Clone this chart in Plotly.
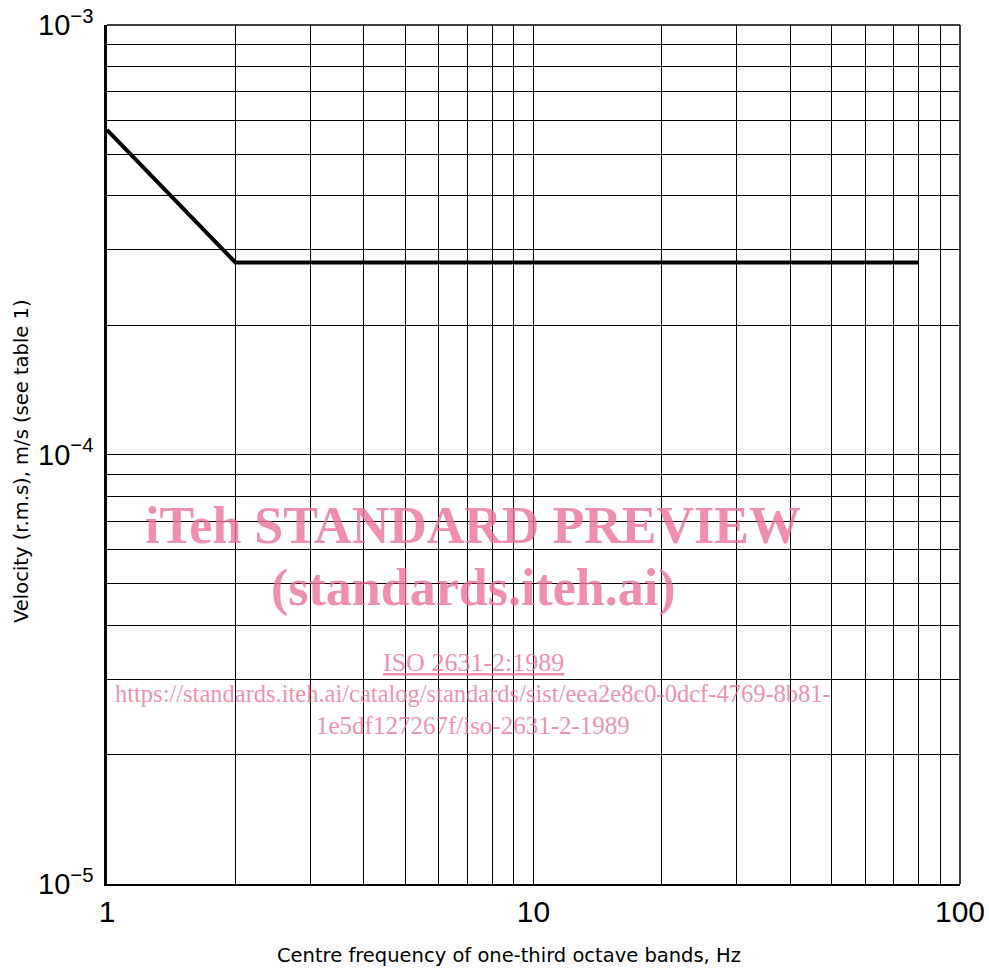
import plotly.graph_objects as go

# Curve data
freq_hz = [1, 2, 80]
velocity_ms = [5.7e-4, 2.8e-4, 2.8e-4]

# Grid / tick positions
x_grid = [1, 2, 3, 4, 5, 6, 7, 8, 9, 10, 20, 30, 40, 50, 60, 70, 80, 90, 100]
x_labels = {1: "1", 10: "10", 100: "100"}
y_grid = [m * 10.0 ** e for e in (-5, -4) for m in range(1, 10)] + [1e-3]
y_labels = {1e-5: "10<sup>−5</sup>", 1e-4: "10<sup>−4</sup>", 1e-3: "10<sup>−3</sup>"}

x_title = "Centre frequency of one-third octave bands, Hz"
y_title = "Velocity (r.m.s), m/s (see table 1)"

x_text = [x_labels.get(v, "") for v in x_grid]
y_text = []
for v in y_grid:
    lab = ""
    for k, t in y_labels.items():
        if abs(v - k) / k < 1e-9:
            lab = t
    y_text.append(lab)

L, R, T, B = 107, 960, 25, 884
W, H = 989, 969
pw, ph = R - L, B - T

def px_x(x):
    return (x - L) / pw

def px_y(y):
    return (B - y) / ph

tick_font = "Liberation Sans, Arial, sans-serif"
title_font = "DejaVu Sans, sans-serif"

fig = go.Figure()
fig.add_trace(go.Scatter(
    x=freq_hz, y=velocity_ms, mode="lines",
    line=dict(color="black", width=4), showlegend=False, hoverinfo="skip"))

fig.update_xaxes(
    type="log", range=[0, 2], automargin=False,
    tickvals=x_grid, ticktext=x_text, ticklabeloverflow="allow",
    showgrid=True, gridcolor="black", gridwidth=1.3,
    showline=True, linecolor="black", linewidth=2, mirror=False,
    ticks="", ticklabelstandoff=0,
    tickfont=dict(family=tick_font, size=30, color="black"),
    zeroline=False,
)
fig.update_yaxes(
    type="log", range=[-5, -3], automargin=False,
    tickvals=y_grid, ticktext=y_text, ticklabeloverflow="allow",
    showgrid=True, gridcolor="black", gridwidth=1.3,
    showline=True, linecolor="black", linewidth=2.5, mirror=False,
    ticks="", ticklabelstandoff=5,
    tickfont=dict(family=tick_font, size=29, color="black"),
    zeroline=False,
)

# frame lines on top and right (thin, like the grid)
fig.add_shape(type="line", xref="paper", yref="paper", x0=0, x1=1, y0=1, y1=1,
              line=dict(color="black", width=1.5))
fig.add_shape(type="line", xref="paper", yref="paper", x0=1, x1=1, y0=0, y1=1,
              line=dict(color="black", width=1.5))

# axis titles
fig.add_annotation(text=x_title, xref="paper", yref="paper",
                   x=px_x(509), y=px_y(955), xanchor="center", yanchor="middle",
                   showarrow=False, font=dict(family=title_font, size=19.5, color="black"))
fig.add_annotation(text=y_title, xref="paper", yref="paper", textangle=-90,
                   x=px_x(21), y=px_y(461), xanchor="center", yanchor="middle",
                   showarrow=False, font=dict(family=title_font, size=19.5, color="black"))

pink = "rgba(236,115,152,0.8)"
wm = [
    ("<b>iTeh STANDARD PREVIEW</b>", 525, 52),
    ("<b>(standards.iteh.ai)</b>", 588, 52),
    ("<u>ISO 2631-2:1989</u>", 662, 26),
    ("https://standards.iteh.ai/catalog/standards/sist/eea2e8c0-0dcf-4769-8b81-", 693, 24.5),
    ("1e5df127267f/iso-2631-2-1989", 725, 25),
]
for text, ypx, size in wm:
    fig.add_annotation(
        text=text, xref="paper", yref="paper",
        x=px_x(473), y=px_y(ypx),
        xanchor="center", yanchor="middle", showarrow=False,
        font=dict(family="Liberation Serif, Times New Roman, serif", size=size, color=pink))

fig.update_layout(
    width=W, height=H,
    margin=dict(l=L, r=W - R, t=T, b=H - B, autoexpand=False),
    plot_bgcolor="white", paper_bgcolor="white",
)

fig.write_html(
    "out.html",
    config={"displayModeBar": False},
    post_script="document.body.style.margin='0';document.body.style.overflow='hidden';",
)
